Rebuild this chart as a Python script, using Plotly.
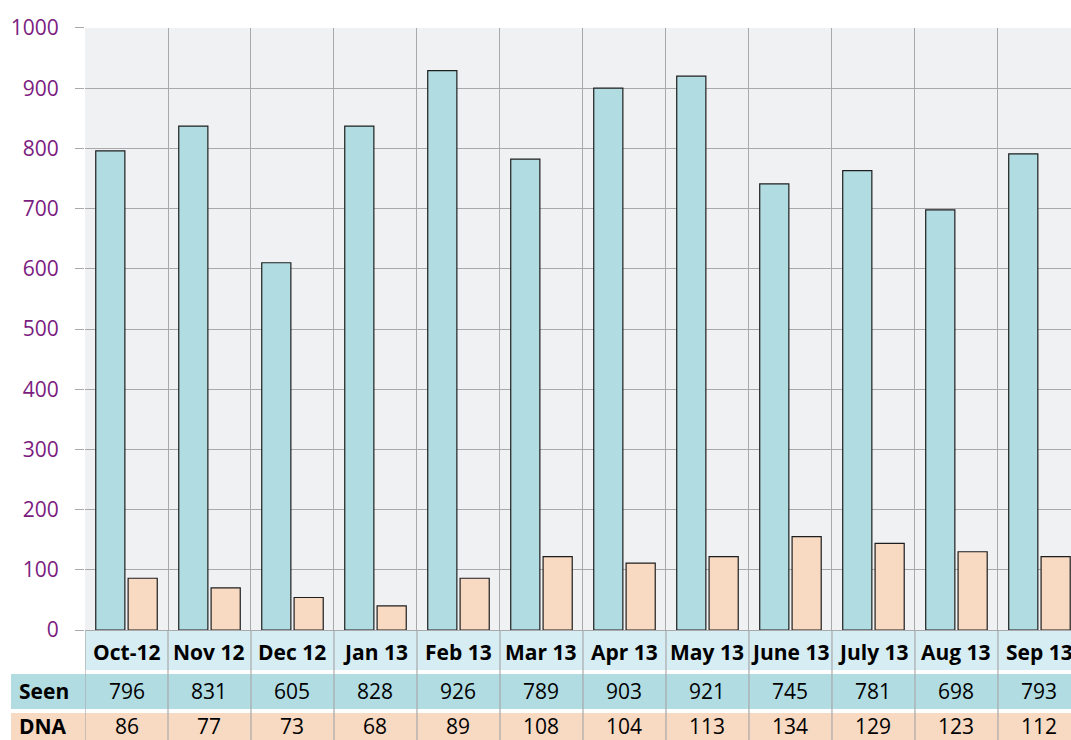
import plotly.graph_objects as go

months = ["Oct-12", "Nov 12", "Dec 12", "Jan 13", "Feb 13", "Mar 13",
          "Apr 13", "May 13", "June 13", "July 13", "Aug 13", "Sep 13"]

# bar heights as drawn
seen_bars = [796, 837, 610, 837, 929, 782, 900, 920, 741, 763, 698, 791]
dna_bars = [86, 70, 54, 40, 86, 122, 111, 122, 155, 144, 130, 122]

# values printed in the table under the chart
seen_table = [796, 831, 605, 828, 926, 789, 903, 921, 745, 781, 698, 793]
dna_table = [86, 77, 73, 68, 89, 108, 104, 113, 134, 129, 123, 112]

y_ticks = [0, 100, 200, 300, 400, 500, 600, 700, 800, 900, 1000]

SEEN_COL = "#b1dce2"
DNA_COL = "#f8d9c1"
HEAD_COL = "#d6edf3"
GRID = "#a9a9ab"
FONT = "Open Sans"

fig = go.Figure()
fig.add_trace(go.Bar(x=months, y=seen_bars, name="Seen", marker_color=SEEN_COL,
                     marker_line_color="#1e1e1e", marker_line_width=1.2))
fig.add_trace(go.Bar(x=months, y=dna_bars, name="DNA", marker_color=DNA_COL,
                     marker_line_color="#1e1e1e", marker_line_width=1.2))

# table rows (paper y coords): bottom, top, text centre
rows = {
    "head": (0.0946, 0.1473, 0.1189),
    "seen": (0.0419, 0.0892, 0.0662),
    "dna": (-0.05, 0.0365, 0.0195),
}
shapes = []
shapes.append(dict(type="rect", xref="paper", yref="paper", x0=0, x1=1,
                   y0=rows["head"][0], y1=rows["head"][1], fillcolor=HEAD_COL,
                   line_width=0, layer="below"))
shapes.append(dict(type="rect", xref="paper", yref="paper", x0=-0.075, x1=1,
                   y0=rows["seen"][0], y1=rows["seen"][1], fillcolor=SEEN_COL,
                   line_width=0, layer="below"))
shapes.append(dict(type="rect", xref="paper", yref="paper", x0=-0.075, x1=1,
                   y0=rows["dna"][0], y1=rows["dna"][1], fillcolor=DNA_COL,
                   line_width=0, layer="below"))
for i in range(len(months)):
    shapes.append(dict(type="line", xref="x", yref="paper", x0=i - 0.5, x1=i - 0.5,
                       y0=-0.05, y1=rows["head"][1], line=dict(color=GRID, width=1.2)))

annotations = []
for i, m in enumerate(months):
    annotations.append(dict(x=m, xref="x", y=rows["head"][2], yref="paper",
                            yanchor="middle", text="<b>" + m + "</b>", showarrow=False,
                            font=dict(size=21, color="black", family=FONT)))
    annotations.append(dict(x=m, xref="x", y=rows["seen"][2], yref="paper",
                            yanchor="middle", text=str(seen_table[i]), showarrow=False,
                            font=dict(size=21, color="black", family=FONT)))
    annotations.append(dict(x=m, xref="x", y=rows["dna"][2], yref="paper",
                            yanchor="middle", text=str(dna_table[i]), showarrow=False,
                            font=dict(size=21, color="black", family=FONT)))
for key, label in [("seen", "Seen"), ("dna", "DNA")]:
    annotations.append(dict(x=-0.069, xref="paper", xanchor="left", y=rows[key][2],
                            yref="paper", yanchor="middle", text="<b>" + label + "</b>",
                            showarrow=False,
                            font=dict(size=21, color="black", family=FONT)))

fig.update_layout(
    width=1071, height=740,
    margin=dict(l=85, r=0, t=0, b=0, autoexpand=False),
    paper_bgcolor="white",
    plot_bgcolor="#f0f1f3",
    showlegend=False,
    bargap=0.22, bargroupgap=0.1,
    font=dict(family=FONT),
    shapes=shapes,
    annotations=annotations,
    xaxis=dict(range=[-0.5, 11.38], tickson="boundaries", showgrid=True,
               gridcolor=GRID, gridwidth=1.2, showticklabels=False, ticks="",
               automargin=False),
    yaxis=dict(range=[0, 1000], domain=[0.1486, 0.9622], tickvals=y_ticks,
               showgrid=True, gridcolor=GRID, gridwidth=1.2, zeroline=True,
               zerolinecolor=GRID, zerolinewidth=1.2, automargin=False,
               ticks="outside", ticklen=9, tickcolor=GRID, tickwidth=1.2,
               ticklabelstandoff=12,
               tickfont=dict(size=21, color="#7b1c80", family=FONT)),
)

fig.write_html("out.html", config={"displayModeBar": False},
               post_script="document.body.style.margin='0';")
